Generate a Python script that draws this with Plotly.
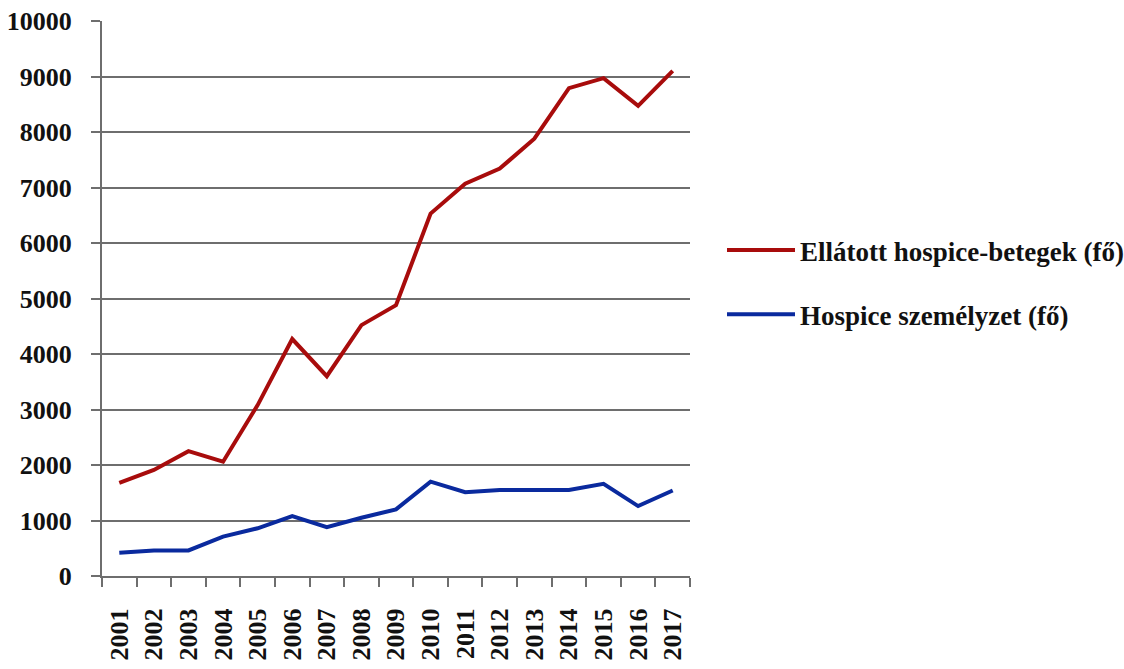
import plotly.graph_objects as go

# Years on the category axis
years = [str(y) for y in range(2001, 2018)]

# Patients cared for in hospice (persons)
patients = [1680, 1910, 2250, 2060, 3080, 4270, 3600, 4520, 4880,
            6530, 7070, 7340, 7880, 8790, 8970, 8470, 9100]

# Hospice staff (persons)
staff = [420, 460, 460, 710, 860, 1080, 880, 1050, 1200,
         1700, 1510, 1550, 1550, 1550, 1660, 1260, 1540]

# Value axis ticks
y_ticks = list(range(0, 10001, 1000))
y_labels = [str(v) for v in y_ticks]

FONT = "Liberation Serif"
GRID = "#6e6e6e"
INK = "#111111"

fig = go.Figure()
fig.add_trace(go.Scatter(
    x=years, y=patients, mode="lines",
    name="<b>Ellátott hospice-betegek (fő)</b>",
    line=dict(color="#a80c0c", width=4),
    legendgroup="a",
))
fig.add_trace(go.Scatter(
    x=years, y=staff, mode="lines",
    name="<b>Hospice személyzet (fő)</b>",
    line=dict(color="#0a2a9e", width=4),
    legendgroup="b",
))

fig.update_layout(
    width=1124, height=669,
    margin=dict(l=102, r=434, t=21, b=93),
    paper_bgcolor="white", plot_bgcolor="white",
    font=dict(family=FONT, color=INK),
    showlegend=True,
    legend=dict(
        xref="container", yref="container",
        x=722 / 1124, y=1 - 226 / 669,
        xanchor="left", yanchor="top",
        font=dict(family=FONT, size=27, color=INK),
        tracegroupgap=26,
        itemwidth=68,
        bgcolor="rgba(0,0,0,0)",
    ),
)

fig.update_xaxes(
    type="category",
    range=[-0.5, 16.5],
    automargin=False,
    showline=True, linecolor=GRID, linewidth=2,
    ticks="outside", tickson="boundaries", ticklen=9, tickwidth=2, tickcolor=GRID,
    tickangle=-90,
    ticklabelstandoff=20,
    tickfont=dict(family=FONT, size=26, color=INK, weight="bold"),
    showgrid=False,
)

fig.update_yaxes(
    range=[0, 10000],
    automargin=False,
    tickvals=y_ticks, ticktext=y_labels,
    showline=True, linecolor=GRID, linewidth=2,
    ticks="outside", ticklen=9, tickwidth=2, tickcolor=GRID,
    showgrid=True, gridcolor=GRID, gridwidth=2,
    zeroline=False,
    ticklabelstandoff=14,
    tickfont=dict(family=FONT, size=26, color=INK, weight="bold"),
)

fig.write_html("out.html")
